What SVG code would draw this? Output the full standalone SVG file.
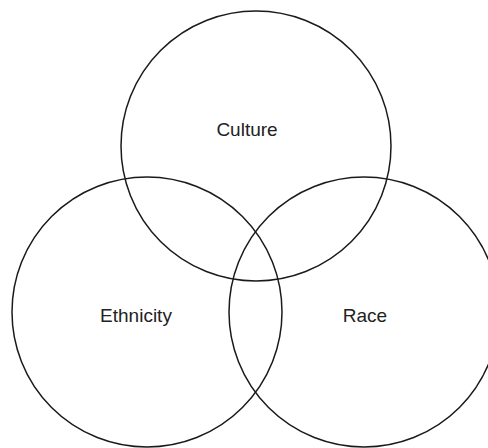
<svg xmlns="http://www.w3.org/2000/svg" width="488" height="448" viewBox="0 0 488 448">
<style>
.c{fill:none;stroke:#1a1a1a;stroke-width:1.5}
.t{font-family:"Liberation Sans",Arial,sans-serif;font-size:19px;fill:#222;text-anchor:middle}
</style>
<rect width="488" height="448" fill="#fff"/>
<g id="culture"><circle class="c" cx="256" cy="146" r="135"/><text class="t" x="247" y="136">Culture</text></g>
<g id="ethnicity"><circle class="c" cx="147" cy="312" r="135"/><text class="t" x="136" y="322">Ethnicity</text></g>
<g id="race"><circle class="c" cx="364" cy="312" r="135"/><text class="t" x="365" y="322">Race</text></g>
<g id="connectors"/>
</svg>
